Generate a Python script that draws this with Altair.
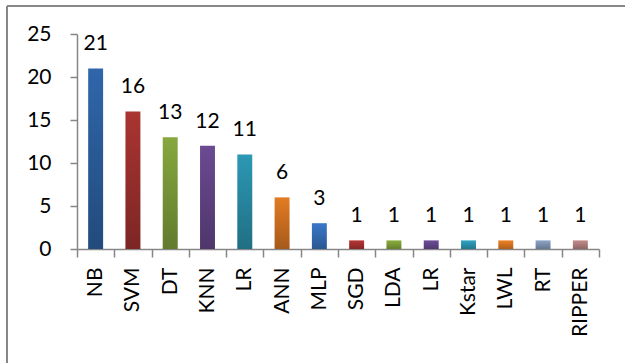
import altair as alt
import pandas as pd

# Classifier usage counts
models = ["NB", "SVM", "DT", "KNN", "LR", "ANN", "MLP", "SGD", "LDA", "LR",
          "Kstar", "LWL", "RT", "RIPPER"]
counts = [21, 16, 13, 12, 11, 6, 3, 1, 1, 1, 1, 1, 1, 1]
colors = ["#2F66AA", "#AA3431", "#86A83E", "#6B4A92", "#2C98B4", "#E37B24",
          "#3A78C8", "#B73535", "#8BAE3D", "#6E4D9A", "#2FA3C2", "#EE8226",
          "#8DA4C6", "#C48B8A"]

df = pd.DataFrame({
    "idx": list(range(len(models))),
    "model": models,
    "count": counts,
    "color": colors,
})

FONT = "Lato"
label_array = "[" + ",".join(f"'{m}'" for m in models) + "]"

x_enc = alt.X(
    "idx:O",
    scale=alt.Scale(paddingInner=0, paddingOuter=0),
    axis=alt.Axis(
        title=None,
        labelExpr=f"{label_array}[datum.value]",
        labelAngle=270,
        labelFont=FONT,
        labelFontSize=21,
        labelColor="#000000",
        labelPadding=10,
        tickBand="extent",
        tickSize=8,
        tickColor="#868686",
        tickWidth=1.5,
        domainColor="#868686",
        domainWidth=1.5,
        grid=False,
    ),
)
y_enc = alt.Y(
    "count:Q",
    scale=alt.Scale(domain=[0, 25], nice=False),
    axis=alt.Axis(
        title=None,
        values=[0, 5, 10, 15, 20, 25],
        labelFont=FONT,
        labelFontSize=21,
        labelColor="#000000",
        labelPadding=19,
        tickSize=7,
        tickColor="#868686",
        tickWidth=1.5,
        domainColor="#868686",
        domainWidth=1.5,
        grid=False,
    ),
)

base = alt.Chart(df)

bars = base.mark_bar(width={"band": 0.4}).encode(
    x=x_enc,
    y=y_enc,
    fill=alt.Fill("color:N", scale=None),
)

# darkening toward the bottom of each bar
shade = base.mark_bar(
    width={"band": 0.4},
    fill=alt.Gradient(
        gradient="linear",
        x1=0, y1=0, x2=0, y2=1,
        stops=[
            alt.GradientStop(color="rgba(0,0,0,0)", offset=0),
            alt.GradientStop(color="rgba(0,0,0,0.27)", offset=1),
        ],
    ),
).encode(x=x_enc, y=y_enc)

labels = base.mark_text(
    font=FONT, fontSize=21, color="#000000", baseline="alphabetic", dy=-18
).encode(x=x_enc, y=y_enc, text="count:Q")

# chart frame (left and top edges)
frame_left = alt.Chart(df).mark_rule(color="#878787", strokeWidth=2).encode(
    x=alt.value(-70), y=alt.value(-28), y2=alt.value(400)
)
frame_top = alt.Chart(df).mark_rule(color="#878787", strokeWidth=2).encode(
    x=alt.value(-70), x2=alt.value(600), y=alt.value(-28)
)

chart = (
    alt.layer(frame_left, frame_top, bars, shade, labels)
    .properties(
        width=522,
        height=215,
        autosize=alt.AutoSizeParams(type="none"),
        padding={"left": 77, "top": 34, "right": 26, "bottom": 114},
        background="#ffffff",
    )
    .configure_view(stroke=None)
)

chart.save("out.html", embed_options={"renderer": "svg", "actions": False})
